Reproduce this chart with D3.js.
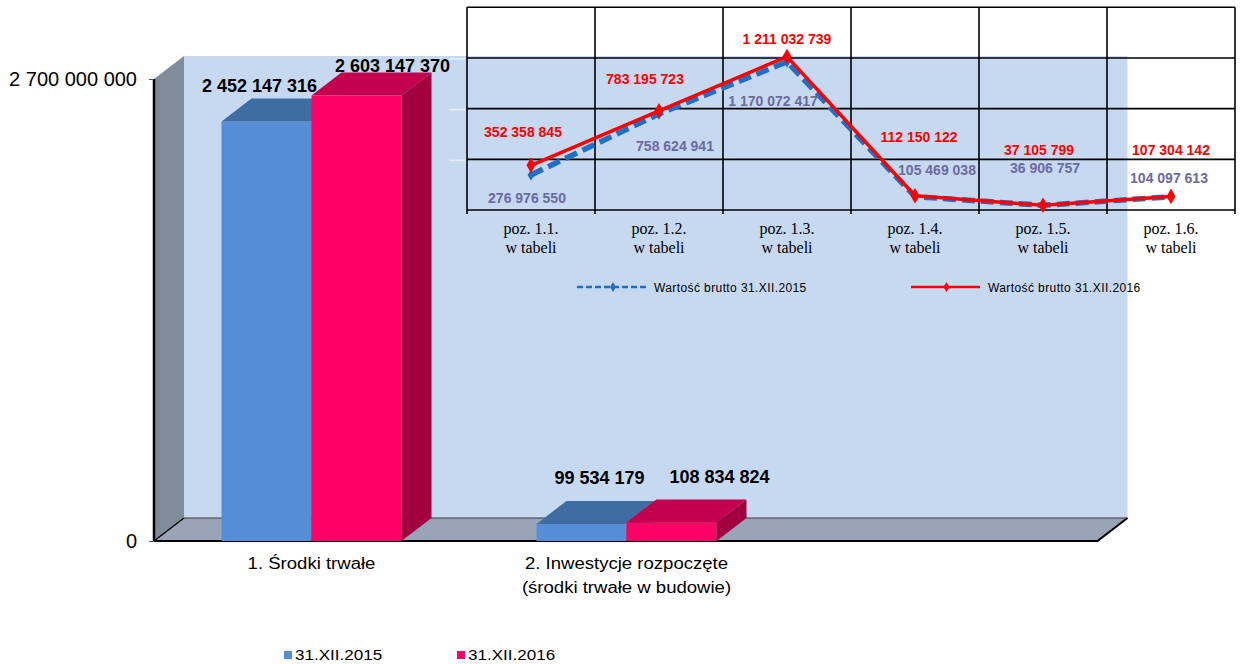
<!DOCTYPE html>
<html>
<head>
<meta charset="utf-8">
<script src="https://cdn.jsdelivr.net/npm/d3@7"></script>
<style>
  html, body { margin: 0; padding: 0; background: #ffffff; }
  svg { display: block; }
</style>
</head>
<body>
<svg id="chart" width="1240" height="664"></svg>
<script>
// ---------------- DATA ----------------
const categories = [["1. Środki trwałe"], ["2. Inwestycje rozpoczęte", "(środki trwałe w budowie)"], [""]];
const seriesNames = ["31.XII.2015", "31.XII.2016"];
const values2015 = [2452147316, 99534179];
const values2016 = [2603147370, 108834824];
const yTickValues = [0, 2700000000];

const insetCategories = ["poz. 1.1.", "poz. 1.2.", "poz. 1.3.", "poz. 1.4.", "poz. 1.5.", "poz. 1.6."];
const insetSubLabel = "w tabeli";
const insetNames = ["Wartość brutto 31.XII.2015", "Wartość brutto 31.XII.2016"];
const inset2015 = [276976550, 758624941, 1170072417, 105469038, 36906757, 104097613];
const inset2016 = [352358845, 783195723, 1211032739, 112150122, 37105799, 107304142];
const insetTicks = [0, 400000000, 800000000, 1200000000, 1600000000];

// ---------------- SETUP ----------------
const svg = d3.select("#chart");
const loc = d3.formatLocale({decimal: ",", thousands: " ", grouping: [3], currency: ["", ""]});
const fmt = loc.format(",d");
const FONT = "'Liberation Sans', Arial, sans-serif";
const SERIF = "'Liberation Serif', 'Times New Roman', serif";

// main 3D chart geometry
const depthX = 30, depthY = -23;
const x0 = d3.scaleBand().domain(d3.range(categories.length)).range([154, 1099]);
const xs = d3.scaleBand().domain([0, 1]).range([0, 180]);
const y = d3.scaleLinear().domain([0, 2700000000]).range([541, 79]);
const baseY = y(0);
const left = x0.range()[0], right = x0.range()[1] - 1.5;

const colors = {
  front: ["#558ED5", "#FF0066"],
  top: ["#3F6CA1", "#C2004E"],
  side: ["#2F5589", "#A3003F"]
};

// back wall
svg.append("rect")
  .attr("x", left + depthX).attr("y", y.range()[1] + depthY)
  .attr("width", right - left).attr("height", baseY - y.range()[1])
  .attr("fill", "#C6D9F0");
// side wall
svg.append("polygon")
  .attr("points", [[left, y.range()[1]], [left + depthX, y.range()[1] + depthY], [left + depthX, baseY + depthY], [left, baseY]].join(" "))
  .attr("fill", "#7F8C99");
// floor
svg.append("polygon")
  .attr("points", [[left, baseY], [left + depthX, baseY + depthY], [right + depthX, baseY + depthY], [right, baseY]].join(" "))
  .attr("fill", "#99A5B6");
svg.append("line").attr("x1", left + depthX).attr("x2", right + depthX)
  .attr("y1", baseY + depthY).attr("y2", baseY + depthY)
  .attr("stroke", "#3a3a3a").attr("stroke-width", 1);
svg.append("line").attr("x1", left).attr("y1", baseY).attr("x2", left + depthX).attr("y2", baseY + depthY)
  .attr("stroke", "#000").attr("stroke-width", 1.5);
svg.append("polyline")
  .attr("points", [[left, baseY], [right, baseY], [right + depthX, baseY + depthY]].join(" "))
  .attr("fill", "none").attr("stroke", "#000").attr("stroke-width", 2);

// y axis
svg.append("line").attr("x1", left).attr("x2", left).attr("y1", y.range()[1]).attr("y2", baseY)
  .attr("stroke", "#000").attr("stroke-width", 2.5);
const yAxis = d3.axisLeft(y).tickValues(yTickValues).tickFormat(fmt).tickSize(5).tickPadding(12);
const yg = svg.append("g").attr("transform", `translate(${left},0)`).call(yAxis);
yg.select(".domain").remove();
yg.selectAll(".tick line").attr("stroke", "#555");
yg.selectAll(".tick text").attr("font-family", FONT).attr("font-size", 20).attr("fill", "#000");

// bars
const series = [values2015, values2016];
const labelOffsets = [[[-7, -6], [36, -1]], [[18, -17], [48, -16]]];
categories.forEach((cat, ci) => {
  series.forEach((vals, si) => {
    if (vals[ci] === undefined) return;
    const v = vals[ci];
    const bx = x0(ci) + (x0.bandwidth() - 180) / 2 + xs(si);
    const bw = xs.bandwidth();
    const by = y(v);
    const g = svg.append("g");
    g.append("rect").attr("x", bx).attr("y", by).attr("width", bw).attr("height", baseY - by)
      .attr("fill", colors.front[si]);
    g.append("polygon")
      .attr("points", [[bx, by], [bx + depthX, by + depthY], [bx + bw + depthX, by + depthY], [bx + bw, by]].join(" "))
      .attr("fill", colors.top[si]);
    g.append("polygon")
      .attr("points", [[bx + bw, by], [bx + bw + depthX, by + depthY], [bx + bw + depthX, baseY + depthY], [bx + bw, baseY]].join(" "))
      .attr("fill", colors.side[si]);
  });
});
// value labels (drawn after bars)
categories.forEach((cat, ci) => {
  series.forEach((vals, si) => {
    if (vals[ci] === undefined) return;
    const v = vals[ci];
    const bx = x0(ci) + (x0.bandwidth() - 180) / 2 + xs(si);
    const off = labelOffsets[ci][si];
    svg.append("text")
      .attr("x", bx + xs.bandwidth() / 2 + off[0])
      .attr("y", y(v) + depthY + off[1])
      .attr("text-anchor", "middle")
      .attr("font-family", FONT).attr("font-weight", "bold").attr("font-size", 18)
      .attr("fill", "#000").text(fmt(v));
  });
});
// category labels (horizontally stretched like the original)
categories.forEach((lines, ci) => {
  lines.forEach((t, li) => {
    svg.append("text")
      .attr("transform", `translate(${x0(ci) + x0.bandwidth() / 2},${569 + li * 24}) scale(1.16,1)`)
      .attr("text-anchor", "middle")
      .attr("font-family", FONT).attr("font-size", 16).attr("fill", "#000")
      .text(t);
  });
});

// main legend
const legendItems = [{x: 284, name: seriesNames[0], c: colors.front[0]}, {x: 457, name: seriesNames[1], c: colors.front[1]}];
legendItems.forEach(it => {
  svg.append("rect").attr("x", it.x).attr("y", 651).attr("width", 8).attr("height", 8).attr("fill", it.c);
  svg.append("text").attr("transform", `translate(${it.x + 11},660) scale(1.1,1)`)
    .attr("font-family", FONT).attr("font-size", 15.5).attr("fill", "#000").text(it.name);
});

// ---------------- INSET LINE CHART ----------------
const ix = d3.scaleBand().domain(insetCategories).range([467, 1235]);
const iy = d3.scaleLinear().domain([0, 1600000000]).range([210, 7.3]);
const ig = svg.append("g");

// grid
insetTicks.forEach(t => {
  ig.append("line").attr("x1", 467).attr("x2", 1235).attr("y1", iy(t)).attr("y2", iy(t))
    .attr("stroke", "#000").attr("stroke-width", 1.6);
  if (t > 0 && t < 1600000000) {
    ig.append("line").attr("x1", 449).attr("x2", 465).attr("y1", iy(t) + 1).attr("y2", iy(t) + 1)
      .attr("stroke", "#e6edf6").attr("stroke-width", 1.5);
  }
});
d3.range(insetCategories.length + 1).forEach(i => {
  const gx = 467 + i * ix.bandwidth();
  ig.append("line").attr("x1", gx).attr("x2", gx).attr("y1", iy(1600000000)).attr("y2", 214)
    .attr("stroke", "#000").attr("stroke-width", 1.6);
});

// x labels
insetCategories.forEach(c => {
  const cx = ix(c) + ix.bandwidth() / 2;
  ig.append("text").attr("x", cx).attr("y", 234).attr("text-anchor", "middle")
    .attr("font-family", SERIF).attr("font-size", 16).attr("fill", "#000").text(c);
  ig.append("text").attr("x", cx).attr("y", 253).attr("text-anchor", "middle")
    .attr("font-family", SERIF).attr("font-size", 16).attr("fill", "#000").text(insetSubLabel);
});

const px = i => ix(insetCategories[i]) + ix.bandwidth() / 2;
const line = d3.line().x((d, i) => px(i)).y(d => iy(d));
const diamond = d3.symbol().type(d3.symbolDiamond);

ig.append("path").datum(inset2015).attr("d", line).attr("fill", "none")
  .attr("stroke", "#1F6FC5").attr("stroke-width", 5.5).attr("stroke-dasharray", "13,6");
ig.selectAll(".m15").data(inset2015).enter().append("path")
  .attr("d", diamond.size(40)).attr("transform", (d, i) => `translate(${px(i)},${iy(d)})`)
  .attr("fill", "#1F6FC5");
ig.append("path").datum(inset2016).attr("d", line).attr("fill", "none")
  .attr("stroke", "#FF0000").attr("stroke-width", 3.5).attr("stroke-linejoin", "round");
ig.selectAll(".m16").data(inset2016).enter().append("path")
  .attr("d", diamond.size(70)).attr("transform", (d, i) => `translate(${px(i)},${iy(d)})`)
  .attr("fill", "#FF0000");

// inset data labels
const off2016 = [[-8, -28], [-14, -27], [0, -13], [4, -54], [-4, -50], [0, -41]];
const off2015 = [[-4, 28], [16, 37], [-14, 44], [22, -22], [2, -32], [-2, -14]];
inset2016.forEach((v, i) => {
  ig.append("text").attr("x", px(i) + off2016[i][0]).attr("y", iy(v) + off2016[i][1])
    .attr("text-anchor", "middle").attr("font-family", FONT).attr("font-weight", "bold")
    .attr("font-size", 14).attr("fill", "#FF0000").text(fmt(v));
});
inset2015.forEach((v, i) => {
  ig.append("text").attr("x", px(i) + off2015[i][0]).attr("y", iy(v) + off2015[i][1])
    .attr("text-anchor", "middle").attr("font-family", FONT).attr("font-weight", "bold")
    .attr("font-size", 14).attr("fill", "#6B6B9F").text(fmt(v));
});

// inset legend
const il = [
  {x1: 577, x2: 647, c: "#1F6FC5", dash: "6,3", tx: 654, name: insetNames[0]},
  {x1: 911, x2: 980, c: "#FF0000", dash: null, tx: 988, name: insetNames[1]}
];
il.forEach(it => {
  const l = ig.append("line").attr("x1", it.x1).attr("x2", it.x2).attr("y1", 287).attr("y2", 287)
    .attr("stroke", it.c).attr("stroke-width", 2.5);
  if (it.dash) l.attr("stroke-dasharray", it.dash);
  ig.append("path").attr("d", diamond.size(30))
    .attr("transform", `translate(${(it.x1 + it.x2) / 2 + 1},287)`).attr("fill", it.c);
  ig.append("text").attr("x", it.tx).attr("y", 292)
    .attr("font-family", FONT).attr("font-size", 12).attr("letter-spacing", 0.4)
    .attr("fill", "#000").text(it.name);
});
</script>
</body>
</html>
